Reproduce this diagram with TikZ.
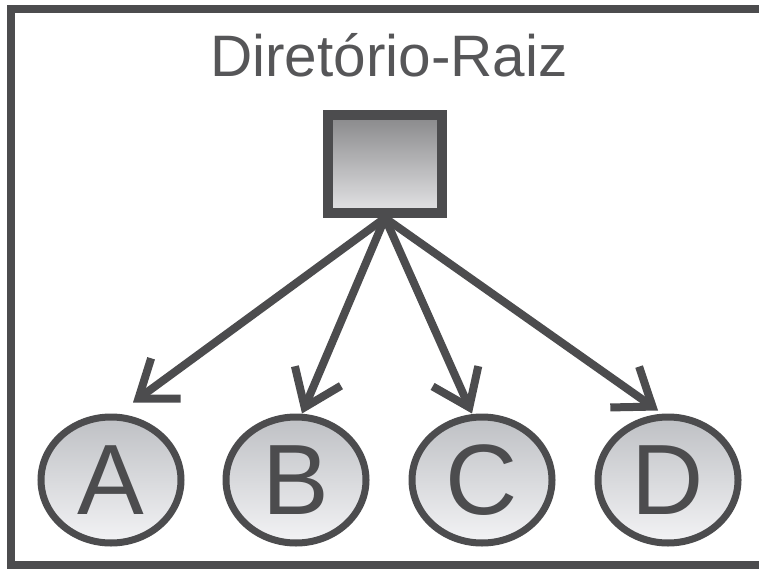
\documentclass[tikz,border=0pt]{standalone}
\usepackage{fontspec}
\setmainfont{Liberation Sans}
\usetikzlibrary{arrows.meta,shapes.geometric}

\definecolor{inkgray}{RGB}{76,76,78}
\definecolor{titlegray}{RGB}{86,86,88}
\definecolor{boxtop}{RGB}{136,136,138}
\definecolor{boxbottom}{RGB}{228,228,230}
\definecolor{circtop}{RGB}{190,192,196}
\definecolor{circbottom}{RGB}{243,243,245}

\tikzset{
  dirbox/.style={draw=inkgray, line width=10pt, inner sep=0pt,
    minimum width=114pt, minimum height=98pt,
    top color=boxtop, bottom color=boxbottom},
  entry/.style={ellipse, draw=inkgray, line width=7pt, inner sep=0pt,
    minimum width=140pt, minimum height=126pt,
    top color=circtop, bottom color=circbottom,
    text=inkgray, font=\fontsize{100}{100}\selectfont},
  link/.style={draw=inkgray, line width=8pt,
    -{Straight Barb[length=34pt,width=50pt]}}
}

\begin{document}
\begin{tikzpicture}[x=1pt,y=-1pt]
  \clip (0,0) rectangle (759,569);
  \draw[inkgray, line width=8pt] (11,9) rectangle (800,565);
  \node[titlegray, font=\fontsize{58.5}{60}\selectfont, anchor=base]
    (title) at (389,77) {Diretório-Raiz};
  \node[dirbox] (root) at (385,164) {};

  \node[entry] (a) at (111,480) {A};
  \node[entry] (b) at (296,480) {B};
  \node[entry] (c) at (482,480) {C};
  \node[entry] (d) at (668,480) {D};

  \draw[link] (root.south) -- ([shift={(22,-11)}]a.north);
  \draw[link] (root.south) -- ([shift={(6,0)}]b.north);
  \draw[link] (root.south) -- ([shift={(-10,0)}]c.north);
  \draw[link] (root.south) -- ([shift={(-10,-3)}]d.north);
\end{tikzpicture}
\end{document}
